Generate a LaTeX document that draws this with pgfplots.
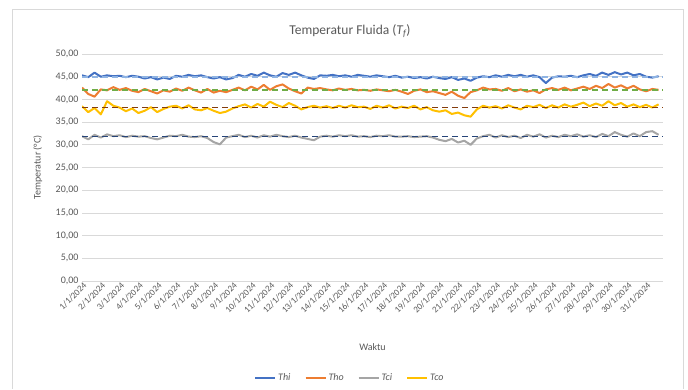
\documentclass[border=0pt]{standalone}
\usepackage{fontspec}
\setmainfont{Carlito}
\usepackage{pgfplots}
\usepackage{pgfplotstable}
\pgfplotsset{compat=1.18}
\definecolor{cThi}{HTML}{4472C4}
\definecolor{cTho}{HTML}{ED7D31}
\definecolor{cTci}{HTML}{A5A5A5}
\definecolor{cTco}{HTML}{FFC000}
\definecolor{aThi}{HTML}{8FB4E3}
\definecolor{aTho}{HTML}{70AD47}
\definecolor{aTci}{HTML}{264478}
\definecolor{aTco}{HTML}{843C0C}
\definecolor{txtc}{HTML}{595959}
\definecolor{gridc}{HTML}{D9D9D9}
\pgfplotstableread{
i thi tho tci tco
0 45.3 42.6 31.9 38.5
1 44.9 41.2 31.2 37.2
2 45.9 40.6 32.2 38.1
3 45.0 42.2 31.6 36.7
4 45.3 42.0 32.3 39.6
5 45.1 42.7 31.9 38.6
6 45.2 42.1 32.1 38.2
7 44.9 42.5 31.7 37.4
8 45.2 41.9 32.0 38.0
9 45.0 41.6 31.8 37.0
10 44.6 42.3 31.9 37.5
11 44.9 41.8 31.5 38.3
12 44.4 41.3 31.2 37.2
13 44.8 42.0 31.6 37.9
14 44.5 41.7 32.0 38.4
15 45.2 42.4 31.9 38.6
16 45.0 41.9 32.2 38.0
17 45.4 42.6 31.8 38.7
18 45.1 42.0 31.7 37.8
19 45.3 41.5 31.9 37.6
20 44.9 42.3 31.5 38.1
21 44.6 41.5 30.6 37.5
22 44.9 41.9 30.1 37.0
23 44.4 41.6 31.6 37.3
24 44.7 42.1 31.9 38.0
25 45.4 42.6 32.2 38.5
26 45.0 42.0 31.7 38.9
27 45.6 42.8 32.0 38.2
28 45.2 42.2 31.6 39.0
29 45.9 43.2 32.1 38.4
30 45.3 42.1 31.8 39.5
31 45.0 42.9 32.2 38.8
32 45.8 43.3 31.9 38.3
33 45.4 42.4 31.7 39.2
34 45.9 41.8 32.0 38.6
35 45.3 41.3 31.6 37.8
36 44.8 42.6 31.3 38.3
37 44.5 42.3 31.0 38.6
38 45.3 42.5 31.8 38.2
39 45.2 42.2 32.0 38.5
40 45.4 42.0 31.8 38.1
41 45.1 42.4 32.1 38.6
42 45.3 42.1 31.9 38.2
43 45.0 42.3 32.1 38.7
44 45.4 42.0 31.8 38.3
45 45.2 42.1 31.9 38.4
46 45.0 41.9 31.7 37.9
47 45.3 42.2 32.0 38.6
48 45.1 42.0 31.9 38.2
49 44.9 41.8 32.1 38.7
50 45.2 42.1 31.8 38.0
51 44.8 41.7 31.8 38.4
52 45.0 41.2 31.9 38.1
53 44.7 41.9 31.7 38.6
54 44.9 42.2 31.8 37.8
55 44.6 41.6 31.9 38.3
56 45.0 41.8 31.6 37.6
57 44.7 41.4 31.1 37.3
58 44.5 41.0 30.8 37.6
59 44.9 41.7 31.3 36.8
60 44.3 40.8 30.5 37.1
61 44.6 40.3 30.9 36.5
62 44.1 41.6 30.0 36.2
63 44.8 42.0 31.4 37.8
64 45.1 42.6 31.9 38.6
65 44.9 42.2 32.2 38.2
66 45.3 42.3 31.6 38.5
67 45.0 41.9 32.1 38.0
68 45.4 42.5 31.7 38.7
69 45.1 41.8 32.0 38.2
70 45.4 42.2 31.5 37.8
71 45.0 41.7 32.2 38.6
72 45.3 42.0 31.8 38.3
73 44.9 41.4 32.3 38.8
74 43.6 42.2 31.6 38.1
75 44.8 42.5 32.0 38.7
76 45.1 42.1 31.7 38.2
77 45.0 42.6 32.2 38.9
78 45.2 42.0 31.9 38.4
79 44.9 42.4 32.3 38.8
80 45.3 42.8 31.8 39.3
81 45.6 42.3 32.1 38.5
82 45.2 43.0 31.7 39.1
83 45.9 42.5 32.4 38.6
84 45.4 43.4 31.9 39.6
85 46.0 42.6 32.8 38.7
86 45.5 43.1 32.2 39.2
87 45.9 42.4 31.8 38.4
88 45.3 43.0 32.5 38.9
89 45.6 42.2 31.9 38.3
90 45.0 41.8 32.8 38.8
91 44.8 42.3 33.0 38.2
92 45.1 42.1 32.2 38.9
}\datatable
\begin{document}
\begin{tikzpicture}
\fill[white] (0pt,0pt) rectangle (688pt,389pt);
\draw[gridc, line width=0.8pt] (12pt,0.5pt) -- (12pt,380pt) -- (683pt,380pt) -- (683pt,0.5pt);
\node[font=\fontsize{13.5}{15}\selectfont, text=txtc] at (350pt,358pt) {Temperatur Fluida (\textit{T\textsubscript{f}})};
\begin{axis}[
  at={(82pt,108pt)}, anchor=south west,
  scale only axis, width=581pt, height=227pt,
  xmin=0, xmax=92.7, ymin=0, ymax=50,
  axis line style={draw=none},
  major tick length=0pt,
  ytick={0,5,...,50},
  ymajorgrids=true, xmajorgrids=false,
  y grid style={gridc, line width=0.8pt},
  xtick={0,3,...,90},
  xticklabels={1/1/2024,2/1/2024,3/1/2024,4/1/2024,5/1/2024,6/1/2024,7/1/2024,8/1/2024,9/1/2024,10/1/2024,11/1/2024,12/1/2024,13/1/2024,14/1/2024,15/1/2024,16/1/2024,17/1/2024,18/1/2024,19/1/2024,20/1/2024,21/1/2024,22/1/2024,23/1/2024,24/1/2024,25/1/2024,26/1/2024,27/1/2024,28/1/2024,29/1/2024,30/1/2024,31/1/2024},
  xticklabel style={rotate=45, anchor=north east, font=\fontsize{9}{10}\selectfont, text=txtc, inner sep=1pt, xshift=1pt},
  yticklabel style={font=\fontsize{10}{11}\selectfont, text=txtc, /pgf/number format/.cd, fixed, fixed zerofill, precision=2, use comma, assume math mode=true},
  scaled y ticks=false,
  xlabel={Waktu}, xlabel style={font=\fontsize{10}{11}\selectfont, text=txtc, at={(axis description cs:0.5,-0.29)}, anchor=center},
  ylabel={Temperatur (°C)}, ylabel style={font=\fontsize{10}{11}\selectfont, text=txtc, at={(axis description cs:-0.076,0.5)}, anchor=center},
  legend columns=4,
  legend style={at={(axis description cs:0.461,-0.427)}, anchor=center, draw=none, fill=none, font=\fontsize{10}{11}\selectfont\itshape, text=txtc, /tikz/every even column/.append style={column sep=12pt}},
  legend image code/.code={\draw[#1] (0pt,0pt) -- (20pt,0pt);},
]
\addplot[cThi, line width=2pt, line join=round] table[x=i, y=thi] {\datatable};
\addlegendentry{Thi}
\addplot[cTho, line width=2pt, line join=round] table[x=i, y=tho] {\datatable};
\addlegendentry{Tho}
\addplot[cTci, line width=2pt, line join=round] table[x=i, y=tci] {\datatable};
\addlegendentry{Tci}
\addplot[cTco, line width=2pt, line join=round] table[x=i, y=tco] {\datatable};
\addlegendentry{Tco}
\addplot[aThi, line width=1.6pt, dash pattern=on 6pt off 4pt, forget plot] coordinates {(0,45.0) (92.7,45.0)};
\addplot[aTho, line width=1.6pt, dash pattern=on 6pt off 4pt, forget plot] coordinates {(0,42.1) (92.7,42.1)};
\addplot[aTci, line width=1.6pt, dash pattern=on 6pt off 4pt, forget plot] coordinates {(0,31.8) (92.7,31.8)};
\addplot[aTco, line width=1.6pt, dash pattern=on 6pt off 4pt, forget plot] coordinates {(0,38.2) (92.7,38.2)};
\end{axis}
\end{tikzpicture}
\end{document}
